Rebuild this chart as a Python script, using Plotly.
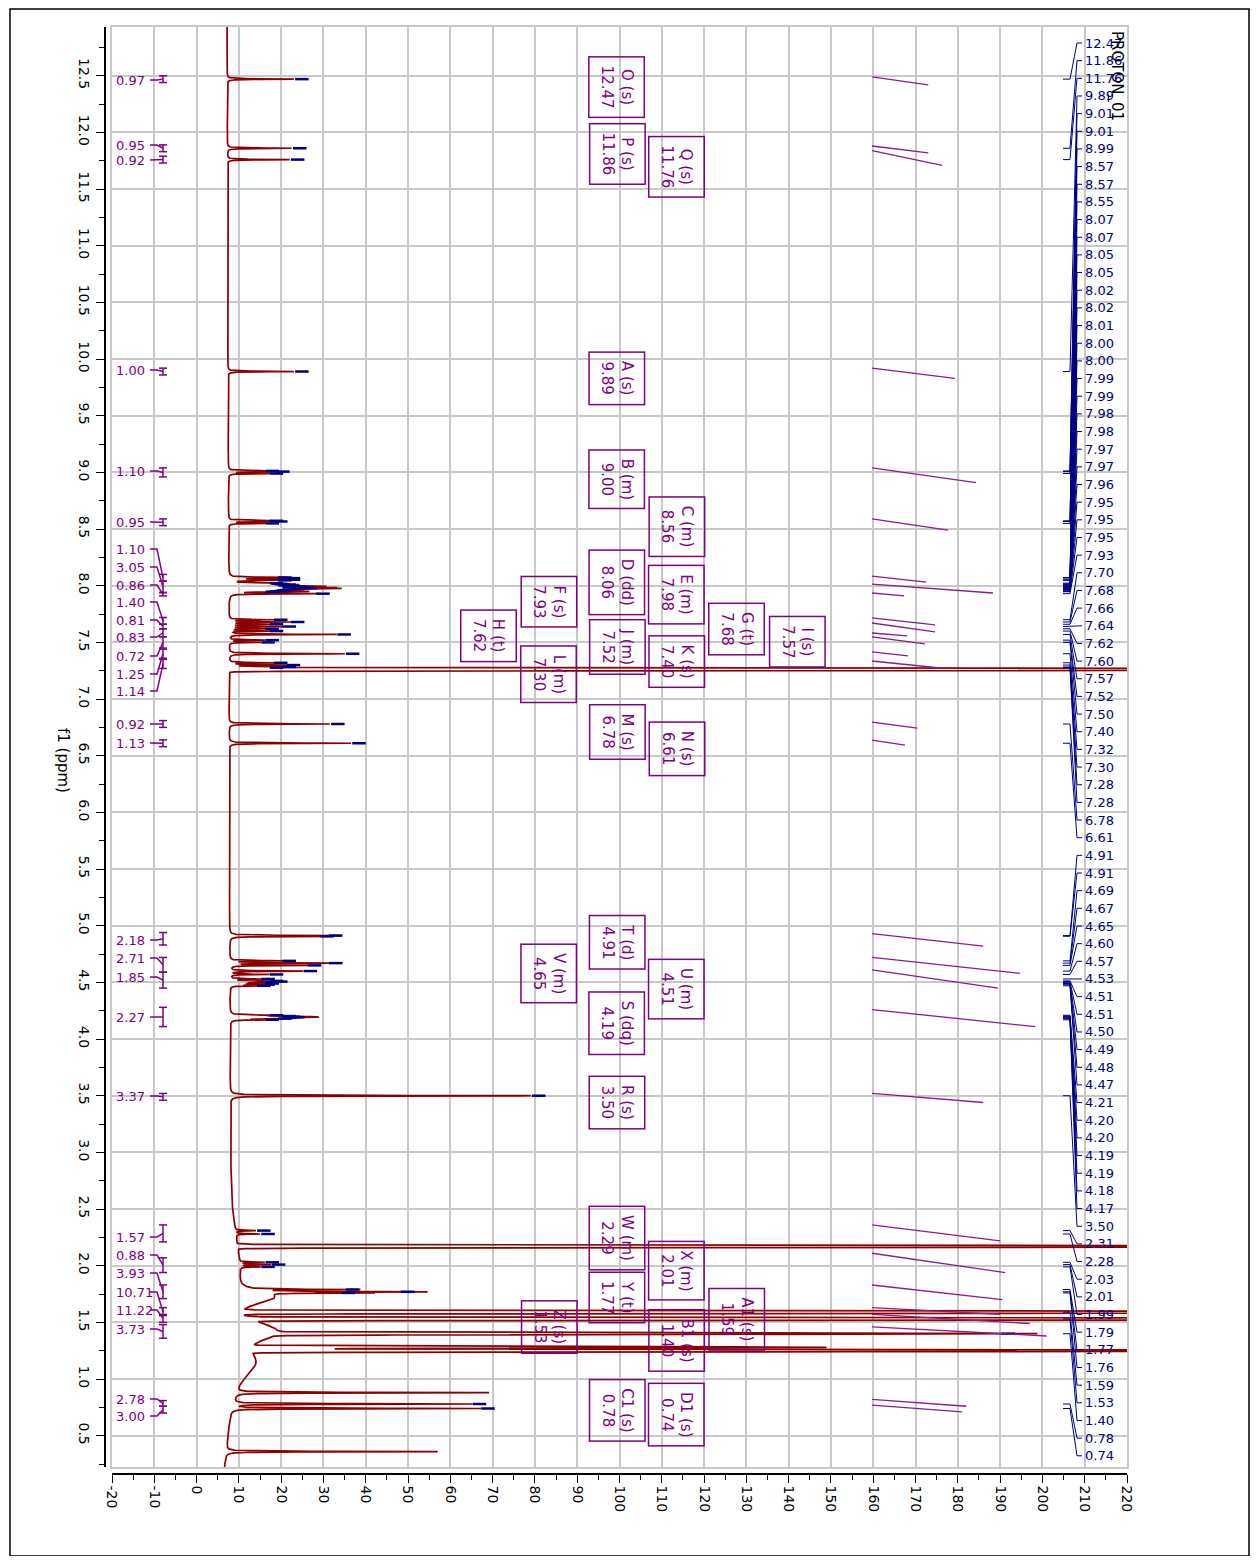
import numpy as np
import plotly.graph_objects as go

# ---------------- data ----------------
x_ticks = list(range(-20, 230, 10))
y_ticks = [12.5, 12.0, 11.5, 11.0, 10.5, 10.0, 9.5, 9.0, 8.5, 8.0, 7.5, 7.0,
           6.5, 6.0, 5.5, 5.0, 4.5, 4.0, 3.5, 3.0, 2.5, 2.0, 1.5, 1.0, 0.5]

peak_labels = ["12.47", "11.86", "11.76", "9.89", "9.01", "9.01", "8.99", "8.57", "8.57", "8.55",
               "8.07", "8.07", "8.05", "8.05", "8.02", "8.02", "8.01", "8.00", "8.00", "7.99",
               "7.99", "7.98", "7.98", "7.97", "7.97", "7.96", "7.95", "7.95", "7.95", "7.93",
               "7.70", "7.68", "7.66", "7.64", "7.62", "7.60", "7.57", "7.52", "7.50", "7.40",
               "7.32", "7.30", "7.28", "7.28", "6.78", "6.61", "4.91", "4.91", "4.69", "4.67",
               "4.65", "4.60", "4.57", "4.53", "4.51", "4.51", "4.50", "4.49", "4.48", "4.47",
               "4.21", "4.20", "4.20", "4.19", "4.19", "4.18", "4.17", "3.50", "2.31", "2.28",
               "2.03", "2.01", "1.99", "1.79", "1.77", "1.76", "1.59", "1.53", "1.40", "0.78",
               "0.74"]
peak_ppm = [12.47, 11.86, 11.76, 9.89, 9.013, 9.007, 8.99, 8.573, 8.567, 8.55,
            8.073, 8.067, 8.053, 8.047, 8.023, 8.017, 8.01, 8.003, 7.997, 7.993,
            7.987, 7.983, 7.977, 7.973, 7.967, 7.96, 7.953, 7.95, 7.947, 7.93,
            7.70, 7.68, 7.66, 7.64, 7.62, 7.60, 7.57, 7.52, 7.50, 7.40,
            7.32, 7.30, 7.283, 7.277, 6.78, 6.61, 4.913, 4.907, 4.69, 4.67,
            4.65, 4.60, 4.57, 4.53, 4.513, 4.507, 4.50, 4.49, 4.48, 4.47,
            4.21, 4.203, 4.197, 4.193, 4.187, 4.18, 4.17, 3.50, 2.31, 2.28,
            2.03, 2.01, 1.99, 1.79, 1.77, 1.76, 1.59, 1.53, 1.40, 0.78,
            0.74]
peak_height = [23, 22.5, 22, 23, 16, 18.5, 17, 17, 18, 16,
               19, 21, 21, 19, 17, 18, 20, 19, 21, 22,
               20, 24, 25, 22, 20, 19, 18, 17, 16, 28,
               18, 22, 17, 20, 16, 17, 33, 16, 15, 35,
               18, 21, 20, 17, 31.5, 36.5, 31, 29, 20, 31,
               26, 25, 17, 15, 17, 18, 16, 16, 15, 14,
               17, 20, 21, 22, 20, 19, 16, 79, 14, 15,
               16, 17.5, 15, 35, 48, 34, 700, 700, 190, 65,
               67]

# unlabelled signals (solvent / impurities)
extra_ppm = [7.26, 2.17, 1.28, 1.25, 0.88, 0.36]
extra_height = [500, 450, 146, 400, 69, 57]

# broad humps under the aliphatic region
hump_ppm = [1.72, 1.42, 1.15]
hump_height = [8, 9, 4]
hump_width = [0.05, 0.07, 0.10]

baseline_ppm = [0.2, 0.5, 0.7, 1.0, 2.0, 2.5, 3.0, 5.0, 8.0, 10.0, 13.0]
baseline_level = [6.5, 7.4, 8.0, 10.0, 10.3, 8.5, 8.0, 7.8, 7.6, 7.4, 7.2]

# integrals
integral_values = ["0.97", "0.95", "0.92", "1.00", "1.10", "0.95", "1.10", "3.05", "0.86", "1.40",
                   "0.81", "0.83", "0.72", "1.25", "1.14", "0.92", "1.13", "2.18", "2.71", "1.85",
                   "2.27", "3.37", "1.57", "0.88", "3.93", "10.71", "11.22", "3.73", "2.78", "3.00"]
integral_from = [12.50, 11.89, 11.79, 9.92, 9.04, 8.59, 8.10, 8.04, 7.94, 7.72,
                 7.66, 7.62, 7.55, 7.44, 7.35, 6.81, 6.64, 4.94, 4.72, 4.59,
                 4.28, 3.52, 2.36, 2.07, 1.83, 1.63, 1.57, 1.48, 0.81, 0.76]
integral_to = [12.44, 11.83, 11.73, 9.86, 8.96, 8.53, 8.04, 7.94, 7.91, 7.66,
               7.62, 7.55, 7.45, 7.36, 7.27, 6.75, 6.58, 4.83, 4.59, 4.45,
               4.11, 3.46, 2.21, 1.94, 1.71, 1.56, 1.50, 1.36, 0.76, 0.70]
# integral curves: start ppm, end ppm, end height
curve_from = [12.49, 11.88, 11.84, 9.92, 9.04, 8.59, 8.085, 8.015, 7.936, 7.716,
              7.671, 7.583, 7.548, 7.416, 7.336, 6.796, 6.637, 4.93, 4.72, 4.61,
              4.26, 3.52, 2.36, 2.11, 1.83, 1.63, 1.57, 1.46, 0.82, 0.77]
curve_to = [12.42, 11.82, 11.71, 9.83, 8.91, 8.49, 8.032, 7.936, 7.910, 7.654,
            7.592, 7.557, 7.486, 7.381, 7.274, 6.743, 6.593, 4.82, 4.58, 4.45,
            4.11, 3.44, 2.22, 1.94, 1.70, 1.57, 1.49, 1.38, 0.76, 0.71]
curve_end = [173.0, 173.0, 176.3, 179.3, 184.3, 177.7, 172.5, 188.3, 167.3, 174.6,
             174.6, 168.0, 172.2, 168.2, 175.8, 170.4, 167.5, 186.0, 194.7, 189.5,
             198.3, 186.0, 190.0, 191.2, 190.5, 190.0, 197.0, 201.0, 182.0, 181.0]

# multiplet boxes
mult_names = ["O (s)", "P (s)", "Q (s)", "A (s)", "B (m)", "C (m)", "D (dd)", "E (m)", "F (s)", "G (t)",
              "H (t)", "I (s)", "J (m)", "K (s)", "L (m)", "M (s)", "N (s)", "R (s)", "S (dq)", "T (d)",
              "U (m)", "V (m)", "W (m)", "X (m)", "Y (t)", "Z (s)", "A1 (s)", "B1 (s)", "C1 (s)", "D1 (s)"]
mult_shift = ["12.47", "11.86", "11.76", "9.89", "9.00", "8.56", "8.06", "7.98", "7.93", "7.68",
              "7.62", "7.57", "7.52", "7.40", "7.30", "6.78", "6.61", "3.50", "4.19", "4.91",
              "4.51", "4.65", "2.29", "2.01", "1.77", "1.53", "1.59", "1.40", "0.78", "0.74"]

# ---------------- layout helpers (positions / styles) ----------------
OFF = 8                      # page body margin
W, H = 1258 - 2 * OFF, 1564 - 2 * OFF
AX_L, BOX_L, BOX_R, BOX_T, BOX_B, AX_B = 105, 112, 1127, 27, 1467, 1474   # page pixels
PW, PH = BOX_R - AX_L, AX_B - BOX_T
X_RANGE = [-20, 220]
Y_RANGE = [0.224, 12.93]

def px_x(px):
    return X_RANGE[0] + (px - BOX_L) * (X_RANGE[1] - X_RANGE[0]) / (BOX_R - BOX_L)

def px_ppm(py):
    return Y_RANGE[1] - (py - BOX_T) * (Y_RANGE[1] - Y_RANGE[0]) / (BOX_B - BOX_T)

def paper_x(px):
    return (px - AX_L) / PW

def paper_y(py):
    return (AX_B - py) / PH

mult_col = [99.4, 99.4, 113.5, 99.4, 99.4, 113.5, 99.4, 113.5, 83.3, 127.6,
            69.1, 142.1, 99.4, 113.5, 83.3, 99.4, 113.5, 99.4, 99.4, 99.4,
            113.5, 83.3, 99.4, 113.5, 99.4, 83.3, 127.6, 113.5, 99.4, 113.5]
mult_row = [12.40, 11.81, 11.70, 9.83, 8.94, 8.52, 8.03, 7.925, 7.86, 7.62,
            7.555, 7.51, 7.46, 7.33, 7.22, 6.71, 6.56, 3.44, 4.14, 4.85,
            4.44, 4.58, 2.24, 1.96, 1.72, 1.46, 1.53, 1.34, 0.72, 0.69]
integral_label_py = [80, 145, 160, 370, 471, 522, 549, 567, 585, 602,
                     620, 637, 656, 674, 691, 724, 743, 940, 958, 977,
                     1017, 1096, 1237, 1255, 1273, 1292, 1310, 1329, 1399, 1416]

PURPLE = "#800080"
NAVY = "#000080"
RED = "#8B0000"
FONT = "DejaVu Sans"

# ---------------- spectrum ----------------
def base_at(p):
    return np.interp(p, baseline_ppm, baseline_level)

ppm = np.arange(0.15, 13.0, 0.0005)
spec = base_at(ppm).copy()

def add_peak(p, h):
    global spec
    a = h - base_at(p)
    if h > 120:   # off-scale signal: narrow gaussian core, thick tip band
        s = 0.006
        spec += a * np.exp(-0.5 * ((ppm - p) / s) ** 2)
    else:
        w = 0.0025
        spec += a * w * w / ((ppm - p) ** 2 + w * w)

for p, h in zip(peak_ppm, peak_height):
    add_peak(p, h)
for p, h in zip(extra_ppm, extra_height):
    add_peak(p, h)
for p, h, w in zip(hump_ppm, hump_height, hump_width):
    spec += h * np.exp(-0.5 * ((ppm - p) / w) ** 2)

fig = go.Figure()
fig.add_trace(go.Scatter(x=spec, y=ppm, mode="lines", line=dict(color=RED, width=1.7),
                         hoverinfo="skip", showlegend=False))

# blue peak markers at the tips
mx, my = [], []
for p, h in zip(peak_ppm, peak_height):
    if h < 215:
        mx += [h + 0.3, h + 3.5, None]
        my += [p, p, None]
fig.add_trace(go.Scatter(x=mx, y=my, mode="lines", line=dict(color=NAVY, width=2.5),
                         hoverinfo="skip", showlegend=False))

# peak label leaders (right side)
lx, ly = [], []
for i, p in enumerate(peak_ppm):
    lab_y = px_ppm(43 + i * 17.66)
    lx += [px_x(1063), px_x(1070), px_x(1077), px_x(1082), None]
    ly += [p, p, lab_y, lab_y, None]
fig.add_trace(go.Scatter(x=lx, y=ly, mode="lines", line=dict(color=NAVY, width=1),
                         hoverinfo="skip", showlegend=False))

# integral brackets and leaders (left side)
bx, by = [], []
for a, b, lpy in zip(integral_from, integral_to, integral_label_py):
    ly0 = px_ppm(lpy)
    mid = 0.5 * (a + b)
    bx += [px_x(150), px_x(157), px_x(163), None]
    by += [ly0, ly0, mid, None]
    bx += [px_x(159), px_x(167), None, px_x(163), px_x(163), None, px_x(159), px_x(167), None]
    by += [a, a, None, a, b, None, b, b, None]
fig.add_trace(go.Scatter(x=bx, y=by, mode="lines", line=dict(color=PURPLE, width=1.5),
                         hoverinfo="skip", showlegend=False))

# integral curves
cx, cy = [], []
for a, b, e in zip(curve_from, curve_to, curve_end):
    cx += [px_x(872), e, None]
    cy += [a, b, None]
fig.add_trace(go.Scatter(x=cx, y=cy, mode="lines", line=dict(color="#8B1C8B", width=1.3),
                         hoverinfo="skip", showlegend=False))

# dummy trace for the offset tick axes
fig.add_trace(go.Scatter(x=[None], y=[None], xaxis="x2", yaxis="y2", showlegend=False))

ann = []
for i, lab in enumerate(peak_labels):
    ann.append(dict(x=px_x(1083), y=px_ppm(43 + i * 17.66), xref="x", yref="y", text=lab,
                    showarrow=False, xanchor="left", yanchor="middle",
                    font=dict(family=FONT, size=13, color=NAVY)))
for v, lpy in zip(integral_values, integral_label_py):
    ann.append(dict(x=px_x(114), y=px_ppm(lpy), xref="x", yref="y", text=v, showarrow=False,
                    xanchor="left", yanchor="middle", font=dict(family=FONT, size=13, color=PURPLE)))
for n, s, cxp, cyp in zip(mult_names, mult_shift, mult_col, mult_row):
    ann.append(dict(x=cxp, y=cyp, xref="x", yref="y", text=n + "<br>" + s, showarrow=False,
                    textangle=90, xanchor="center", yanchor="middle", align="center",
                    bordercolor=PURPLE, borderwidth=1.5, borderpad=8,
                    font=dict(family=FONT, size=15, color=PURPLE)))
ann.append(dict(x=paper_x(63), y=paper_y(760), xref="paper", yref="paper", text="f1 (ppm)",
                xanchor="center", yanchor="middle",
                showarrow=False, textangle=90, font=dict(family=FONT, size=15, color="black")))
ann.append(dict(x=paper_x(1117), y=paper_y(76), xref="paper", yref="paper", text="PROTON_01",
                xanchor="center", yanchor="middle",
                showarrow=False, textangle=90, font=dict(family=FONT, size=15, color="black")))

shapes = [dict(type="rect", xref="paper", yref="paper", x0=paper_x(10), x1=paper_x(1249),
               y0=paper_y(1556), y1=paper_y(9), line=dict(color="black", width=1.5))]

grid_col = "#C8C8C8"
fig.update_layout(
    width=W, height=H, plot_bgcolor="white", paper_bgcolor="white",
    margin=dict(l=AX_L - OFF, r=(W + OFF) - BOX_R, t=BOX_T - OFF, b=(H + OFF) - AX_B, pad=0),
    showlegend=False, annotations=ann, shapes=shapes,
    xaxis=dict(domain=[(BOX_L - AX_L) / PW, 1], range=X_RANGE, showgrid=True, gridcolor=grid_col,
               gridwidth=1.5, tick0=0, dtick=10, showticklabels=False, ticks="", zeroline=False,
               showline=True, linecolor=grid_col, linewidth=1.5, mirror=True),
    yaxis=dict(domain=[(AX_B - BOX_B) / PH, 1], range=Y_RANGE, showgrid=True, gridcolor=grid_col,
               gridwidth=1.5, tick0=0, dtick=0.5, showticklabels=False, ticks="", zeroline=False,
               showline=True, linecolor=grid_col, linewidth=1.5, mirror=True),
    xaxis2=dict(overlaying="x", anchor="free", position=0, side="bottom", range=X_RANGE,
                tickmode="array", tickvals=x_ticks, ticktext=[str(v) for v in x_ticks],
                ticks="outside", ticklen=8, tickwidth=1.2, tickcolor="black",
                showline=True, linecolor="black", linewidth=1.5, showgrid=False, zeroline=False,
                tickangle=90, tickfont=dict(family=FONT, size=14, color="black"),
                minor=dict(dtick=5, tick0=0, ticks="outside", ticklen=5, tickcolor="black", showgrid=False)),
    yaxis2=dict(overlaying="y", anchor="free", position=0, side="left", range=Y_RANGE,
                tickmode="array", tickvals=y_ticks, ticktext=["%.1f" % v for v in y_ticks],
                ticks="outside", ticklen=8, tickwidth=1.2, tickcolor="black",
                showline=True, linecolor="black", linewidth=1.5, showgrid=False, zeroline=False,
                tickangle=90, tickfont=dict(family=FONT, size=14, color="black"),
                minor=dict(dtick=0.25, tick0=0, ticks="outside", ticklen=5, tickcolor="black", showgrid=False)),
)
fig.write_html("out.html")
